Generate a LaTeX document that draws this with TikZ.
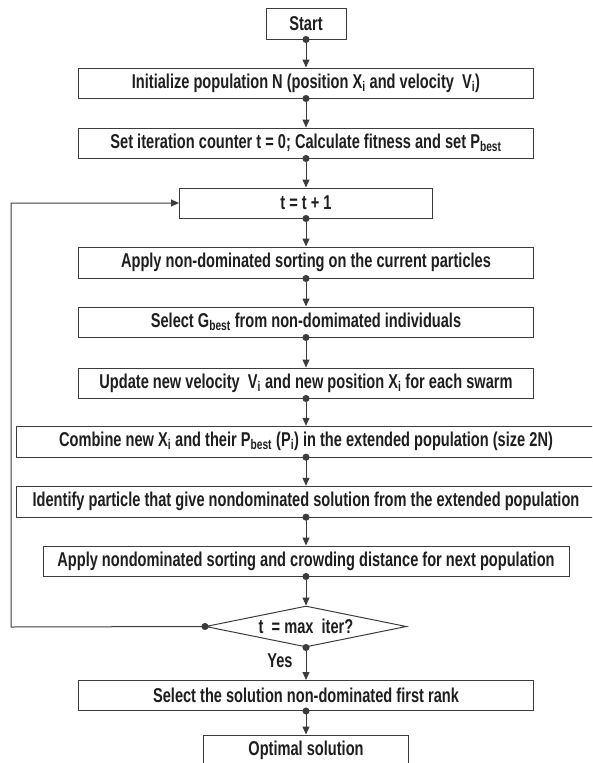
\documentclass[tikz,border=0pt]{standalone}
\usepackage{fontspec}
\setmainfont{Liberation Sans}[FakeStretch=0.73]
\usetikzlibrary{shapes.geometric,arrows.meta}
\definecolor{linegray}{HTML}{3C3C3C}
\definecolor{ink}{HTML}{1E1E1E}
\begin{document}
\begin{tikzpicture}[x=1pt,y=-1pt,
  txt/.style={inner sep=0pt,text=ink,font=\fontsize{20}{22}\selectfont\bfseries},
  box/.style={txt,draw=linegray,line width=1pt,minimum height=30pt},
  flow/.style={draw=linegray,line width=1pt,{Circle[length=7pt]}-{Triangle[length=8pt,width=7pt]},shorten <=-3.5pt}]
\useasboundingbox (0,0) rectangle (592,763);
\clip (0,0) rectangle (592,763);
% boxes
\node[box,minimum width=80pt,minimum height=31pt] (start) at (306,23.5) {Start};
\node[box,minimum width=455pt] (init) at (306,83) {Initialize population N (position X\textsubscript{i} and velocity~ V\textsubscript{i})};
\node[box,minimum width=455pt] (setit) at (306,143) {Set iteration counter t = 0; Calculate fitness and set P\textsubscript{best}};
\node[box,minimum width=253pt] (tinc) at (306,203) {t = t + 1};
\node[box,minimum width=455pt,minimum height=31pt] (apply) at (306,262.5) {Apply non-dominated sorting on the current particles};
\node[box,minimum width=455pt] (sel) at (306,322) {Select G\textsubscript{best} from non-domimated individuals};
\node[box,minimum width=455pt] (upd) at (306,383) {Update new velocity~ V\textsubscript{i} and new position X\textsubscript{i} for each swarm};
% these two run off the right edge
\node[txt,minimum height=31pt] (comb) at (306,441.5) {Combine new X\textsubscript{i} and their P\textsubscript{best} (P\textsubscript{i}) in the extended population (size 2N)};
\draw[linegray,line width=1pt] (16,426) rectangle (600,457);
\node[txt,minimum height=31pt] (ident) at (306,501.5) {Identify particle that give nondominated solution from the extended population};
\draw[linegray,line width=1pt] (16,486) rectangle (600,517);
\node[box,minimum width=526pt] (nondom) at (306,561) {Apply nondominated sorting and crowding distance for next population};
\node[txt,diamond,aspect=5,draw=linegray,line width=1pt,minimum width=201pt,minimum height=41pt] (dec) at (306,626.5) {t~ = max~ iter?};
\node[box,minimum width=455pt] (rank) at (306,695.5) {Select the solution non-dominated first rank};
\node[box,minimum width=205pt] (opt) at (306,750) {Optimal solution};
\node[txt] (yes) at (280,661) {Yes};
% connectors
\foreach \a/\b in {start/init,init/setit,setit/tinc,tinc/apply,apply/sel,sel/upd,upd/comb,comb/ident,ident/nondom,nondom/dec,dec/rank,rank/opt}
  \draw[flow] (\a.south) -- (\b.north);
\coordinate (back) at (11,627);
\draw[flow] (dec.west) -- (back) |- (tinc.west);
\end{tikzpicture}
\end{document}
